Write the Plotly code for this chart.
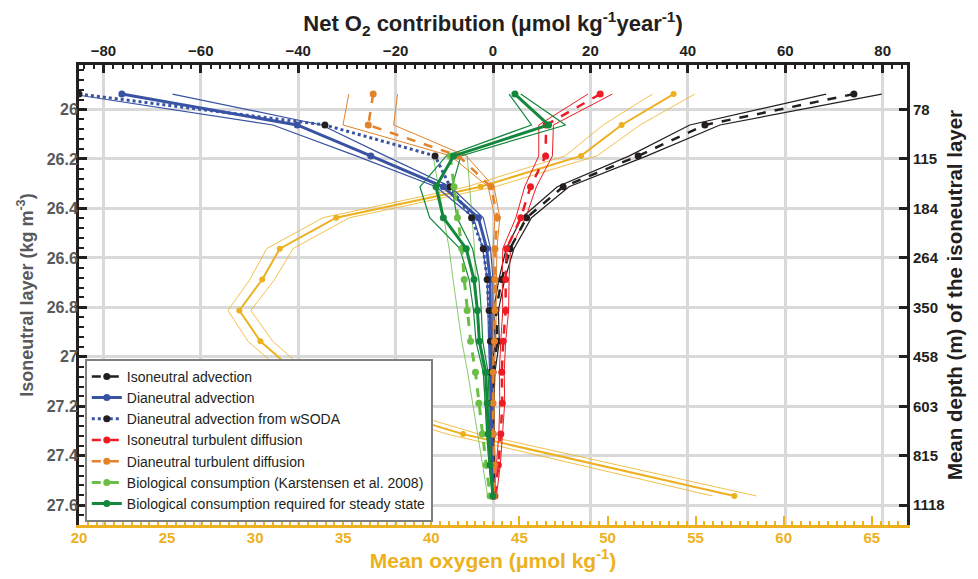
import plotly.graph_objects as go

# Isoneutral layers (kg m-3), centre of each layer
layers = [25.9375, 26.0625, 26.1875, 26.3125, 26.4375, 26.5625, 26.6875,
          26.8125, 26.9375, 27.0625, 27.1875, 27.3125, 27.4375, 27.5625]

# Net O2 contributions (umol kg-1 yr-1) and their uncertainty half-widths
iso_adv = [74.1, 43.5, 29.8, 14.4, 6.9, 3.5, 1.8, 0.6, 0.9, 0.0, -0.1, 0.0, 0.1, 0.2]
iso_adv_err = [5.7, 3.1, 1.8, 1.2, 1.0, 0.8, 0.6, 0.5, 0.4, 0.4, 0.3, 0.3, 0.2, 0.2]

dia_adv = [-76.2, -40.2, -25.1, -10.2, -3.0, -1.3, -0.6, -0.6, -0.5, -0.4, -0.3, -0.2, -0.1, 0.0]
dia_adv_err = [10.4, 5.0, 3.0, 1.5, 1.0, 0.8, 0.6, 0.5, 0.4, 0.3, 0.3, 0.2, 0.2, 0.1]

wsoda = [-85.0, -34.5, -11.9, -8.8, -4.4, -2.0, -1.2, -0.8, -0.5, -0.4, -0.3, -0.2, -0.1, 0.0]

iso_diff = [22.0, 10.9, 10.8, 7.7, 5.7, 2.8, 2.6, 2.6, 2.1, 1.8, 1.9, 1.6, 1.1, 0.4]
iso_diff_err = [2.5, 1.5, 1.4, 1.2, 1.0, 0.8, 0.7, 0.6, 0.5, 0.5, 0.5, 0.4, 0.4, 0.3]

dia_diff = [-24.6, -25.6, -7.1, -0.4, 0.9, 0.4, 0.4, 0.4, 0.3, 0.0, 0.0, 0.0, 0.3, 0.2]
dia_diff_err = [5.0, 5.2, 1.6, 0.6, 0.5, 0.4, 0.3, 0.3, 0.3, 0.2, 0.2, 0.2, 0.2, 0.2]

bio_k = [None, None, -8.8, -8.0, -7.3, -6.4, -5.9, -5.3, -4.6, -3.6, -2.9, -2.2, -1.4, -0.6]
bio_k_err = [None, None, 3.5, 3.2, 2.9, 2.6, 2.3, 2.0, 1.8, 1.6, 1.3, 1.0, 0.8, 0.5]

bio_ss = [4.5, 11.4, -8.1, -11.7, -10.2, -5.5, -3.9, -3.2, -2.8, -1.5, -1.2, -1.0, -0.6, 0.0]
bio_ss_err = [1.2, 3.5, 1.5, 3.3, 2.8, 1.3, 1.0, 0.8, 0.7, 0.5, 0.4, 0.3, 0.2, 0.1]

# Mean oxygen (umol kg-1), bottom axis
mean_o2 = [53.75, 50.8, 48.5, 42.8, 34.6, 31.4, 30.4, 29.1, 30.3, 32.3, 36.0, 41.8, None, 57.2]
mean_o2_err = [1.2, 1.05, 0.9, 0.8, 0.75, 0.75, 0.7, 0.65, 0.7, 0.7, 0.8, 0.9, None, 1.25]

# Axis ticks
dens_ticks = [26.0, 26.2, 26.4, 26.6, 26.8, 27.0, 27.2, 27.4, 27.6]
depth_labels = ["78", "115", "184", "264", "350", "458", "603", "815", "1118"]

BLACK = "#231F20"
BLUE = "#3953A4"
RED = "#ED1C24"
ORANGE = "#E3822A"
LGREEN = "#6ABD45"
DGREEN = "#13873C"
GOLD = "#EDB120"
GREY = "#58595B"
FONT = "Liberation Sans"

fig = go.Figure()


def lohi(vals, errs):
    lo = [None if v is None else v - e for v, e in zip(vals, errs)]
    hi = [None if v is None else v + e for v, e in zip(vals, errs)]
    return lo, hi


def envelope(vals, errs, color, width, xa):
    for b in lohi(vals, errs):
        fig.add_trace(go.Scatter(x=b, y=layers, xaxis=xa, yaxis="y", mode="lines",
                                 line=dict(color=color, width=width),
                                 showlegend=False, hoverinfo="skip", connectgaps=True))


# Mean oxygen (bottom axis)
envelope(mean_o2, mean_o2_err, GOLD, 0.8, "x")
fig.add_trace(go.Scatter(x=mean_o2, y=layers, xaxis="x", yaxis="y", mode="lines+markers",
                         line=dict(color=GOLD, width=2), marker=dict(size=6, color=GOLD),
                         connectgaps=True, showlegend=False, name="Mean oxygen"))
# invisible trace to anchor the right-hand depth axis
fig.add_trace(go.Scatter(x=mean_o2, y=layers, xaxis="x", yaxis="y2", mode="lines",
                         line=dict(width=0), opacity=0, showlegend=False, hoverinfo="skip"))

# envelopes of the O2 contribution terms
envelope(iso_adv, iso_adv_err, BLACK, 1.2, "x2")
envelope(dia_adv, dia_adv_err, BLUE, 1.2, "x2")
envelope(iso_diff, iso_diff_err, RED, 1.0, "x2")
envelope(dia_diff, dia_diff_err, ORANGE, 1.0, "x2")
envelope(bio_k, bio_k_err, LGREEN, 0.8, "x2")
envelope(bio_ss, bio_ss_err, DGREEN, 1.2, "x2")

series = [
    ("Isoneutral advection", iso_adv, BLACK, BLACK, "dash", 2.5),
    ("Dianeutral advection", dia_adv, BLUE, BLUE, "solid", 3),
    ("Dianeutral advection from wSODA", wsoda, BLUE, BLACK, "dot", 3),
    ("Isoneutral turbulent diffusion", iso_diff, RED, RED, "dash", 2.5),
    ("Dianeutral turbulent diffusion", dia_diff, ORANGE, ORANGE, "dash", 2.5),
    ("Biological consumption (Karstensen et al. 2008)", bio_k, LGREEN, LGREEN, "dash", 3),
    ("Biological consumption required for steady state", bio_ss, DGREEN, DGREEN, "solid", 3),
]
for name, vals, lc, mc, dash, w in series:
    fig.add_trace(go.Scatter(x=vals, y=layers, xaxis="x2", yaxis="y", mode="lines+markers",
                             name=name, line=dict(color=lc, width=w, dash=dash),
                             marker=dict(size=7, color=mc)))

yrange = [27.68, 25.82]

# the page body adds an 8 px margin, so the figure is 8 px smaller than the window
fig.update_layout(
    width=970, height=571,
    margin=dict(l=71, r=71, t=57, b=54, autoexpand=False),
    paper_bgcolor="white", plot_bgcolor="white",
    font=dict(family=FONT),
    xaxis=dict(range=[20, 67], side="bottom", anchor="y", dtick=5, tick0=20,
               automargin=False, showgrid=False, zeroline=False,
               showline=True, linecolor=GOLD, linewidth=3,
               ticks="inside", ticklen=9, tickwidth=2, tickcolor=GOLD,
               ticklabelstandoff=-3,
               minor=dict(dtick=0.5, ticks="inside", ticklen=4, tickwidth=2, tickcolor=GOLD),
               tickfont=dict(family=FONT, size=15, weight="bold", color=GOLD),
               title=dict(text="Mean oxygen (μmol kg<sup>-1</sup>)", standoff=4,
                          font=dict(family=FONT, size=21, weight="bold", color=GOLD))),
    xaxis2=dict(range=[-85, 85], side="top", overlaying="x", anchor="y", dtick=20, tick0=0,
                automargin=False, showgrid=True, gridcolor="#D9D9D9", gridwidth=2.5,
                zeroline=False, showline=True, linecolor=BLACK, linewidth=3,
                ticks="inside", ticklen=8, tickwidth=3, tickcolor=BLACK,
                minor=dict(dtick=2, ticks="inside", ticklen=4, tickwidth=2, tickcolor=BLACK),
                tickfont=dict(family=FONT, size=15, weight="bold", color=BLACK),
                title=dict(text="Net O<sub>2</sub> contribution (μmol kg<sup>-1</sup>year<sup>-1</sup>)",
                           standoff=8,
                           font=dict(family=FONT, size=22, weight="bold", color=BLACK))),
    yaxis=dict(range=yrange, side="left", anchor="x", tickvals=dens_ticks,
               automargin=False, showgrid=True, gridcolor="#D9D9D9", gridwidth=2.5,
               zeroline=False, showline=True, linecolor=BLACK, linewidth=3,
               ticks="inside", ticklen=8, tickwidth=3, tickcolor=BLACK,
               ticklabelstandoff=-5,
               minor=dict(dtick=0.04, tick0=26.0, ticks="inside", ticklen=5, tickwidth=2,
                          tickcolor=BLACK),
               tickfont=dict(family=FONT, size=16, weight="bold", color=GREY),
               title=dict(text="Isoneutral layer (kg m<sup>-3</sup>)", standoff=9,
                          font=dict(family=FONT, size=18, weight="bold", color=GREY))),
    yaxis2=dict(range=yrange, side="right", overlaying="y", anchor="x",
                tickvals=dens_ticks, ticktext=depth_labels,
                automargin=False, showgrid=False, zeroline=False,
                showline=True, linecolor=BLACK, linewidth=3,
                ticks="inside", ticklen=8, tickwidth=3, tickcolor=BLACK,
                tickfont=dict(family=FONT, size=15, weight="bold", color=BLACK),
                title=dict(text="Mean depth (m) of the isoneutral layer", standoff=4,
                           font=dict(family=FONT, size=20.5, weight="bold", color=BLACK))),
    legend=dict(x=0.007, y=0.007, xanchor="left", yanchor="bottom",
                bgcolor="white", bordercolor="#7F7F7F", borderwidth=2,
                font=dict(family=FONT, size=14, color=BLACK), itemwidth=30,
                tracegroupgap=0),
)

fig.write_html("out.html")
